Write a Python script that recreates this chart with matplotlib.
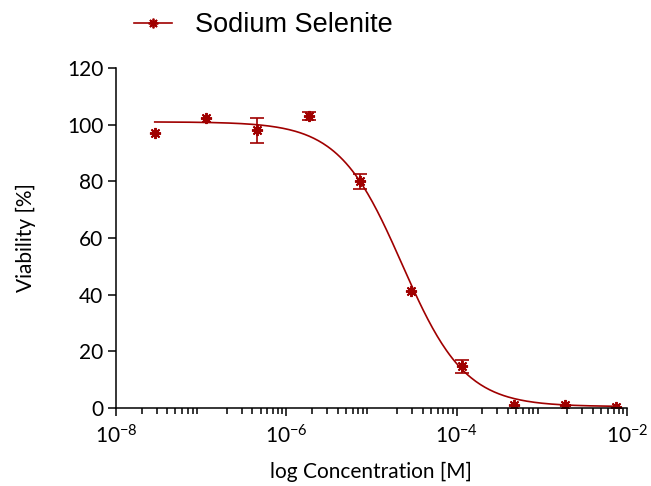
import numpy as np
import matplotlib
matplotlib.use("Agg")
import matplotlib.pyplot as plt
from matplotlib.lines import Line2D

# Measured viability for sodium selenite (4-fold dilution series)
conc = [2.86e-8, 1.14e-7, 4.58e-7, 1.83e-6, 7.32e-6, 2.93e-5, 1.17e-4, 4.69e-4, 1.88e-3, 7.5e-3]
viability = [97.0, 102.2, 98.0, 103.0, 80.0, 41.3, 14.8, 1.2, 1.1, 0.4]
error = [0.0, 0.0, 4.5, 1.5, 2.6, 0.0, 2.3, 0.0, 0.0, 0.0]

# 4-parameter logistic fit parameters
fit_top = 101.0
fit_bottom = 0.5
fit_log_ic50 = -4.64
fit_hill = 1.17

x_ticks = [1e-8, 1e-6, 1e-4, 1e-2]
x_tick_labels = [r"$\mathregular{10^{-8}}$", r"$\mathregular{10^{-6}}$",
                 r"$\mathregular{10^{-4}}$", r"$\mathregular{10^{-2}}$"]
y_ticks = [0, 20, 40, 60, 80, 100, 120]

COLOR = "#a00000"

plt.rcParams["font.family"] = ["Lato", "DejaVu Sans"]
plt.rcParams["mathtext.fontset"] = "custom"
plt.rcParams["mathtext.rm"] = "Lato"

fig = plt.figure(figsize=(6.51, 4.86), dpi=100)
ax = fig.add_axes([0.178, 0.1605, 0.785, 0.6995])

# fitted curve
xs = np.logspace(np.log10(conc[0]), np.log10(conc[-1]), 300)
ys = fit_bottom + (fit_top - fit_bottom) / (1 + 10 ** ((np.log10(xs) - fit_log_ic50) * fit_hill))
ax.plot(xs, ys, color=COLOR, lw=1.2)

# error bars only where there is a spread
conc_arr = np.array(conc)
via_arr = np.array(viability)
err_arr = np.array(error)
has_err = err_arr > 0
ax.errorbar(conc_arr[has_err], via_arr[has_err], yerr=err_arr[has_err], fmt="none",
            ecolor=COLOR, elinewidth=1.2, capsize=5, capthick=1.2)
ax.plot(conc, viability, linestyle="none", marker=(8, 2, 0), markersize=8,
        markeredgewidth=1.4, color=COLOR)

ax.set_xscale("log")
ax.set_xlim(1e-8, 1e-2)
ax.set_ylim(0, 120)
ax.set_xticks(x_ticks)
ax.set_xticklabels(x_tick_labels)
ax.set_yticks(y_ticks)

for side in ["top", "right"]:
    ax.spines[side].set_visible(False)
for side in ["left", "bottom"]:
    ax.spines[side].set_linewidth(1.1)

ax.tick_params(axis="both", which="major", length=6, width=1.1, labelsize=15, pad=3)
ax.tick_params(axis="x", which="minor", length=4, width=1.1)
ax.tick_params(axis="x", which="major", pad=6)

ax.set_xlabel("log Concentration [M]", fontsize=15, labelpad=10)
ax.set_ylabel("Viability [%]", fontsize=15, labelpad=22)

handle = Line2D([], [], color=COLOR, lw=1.2, marker=(8, 2, 0), markersize=7,
                markeredgewidth=1.3)
fig.legend([handle], ["Sodium Selenite"], loc="upper left",
           bbox_to_anchor=(0.168, 1.025), frameon=False,
           prop={"family": "Liberation Sans", "size": 19.5},
           handlelength=1.4, handletextpad=0.85)

fig.savefig("out.png", dpi=100)
